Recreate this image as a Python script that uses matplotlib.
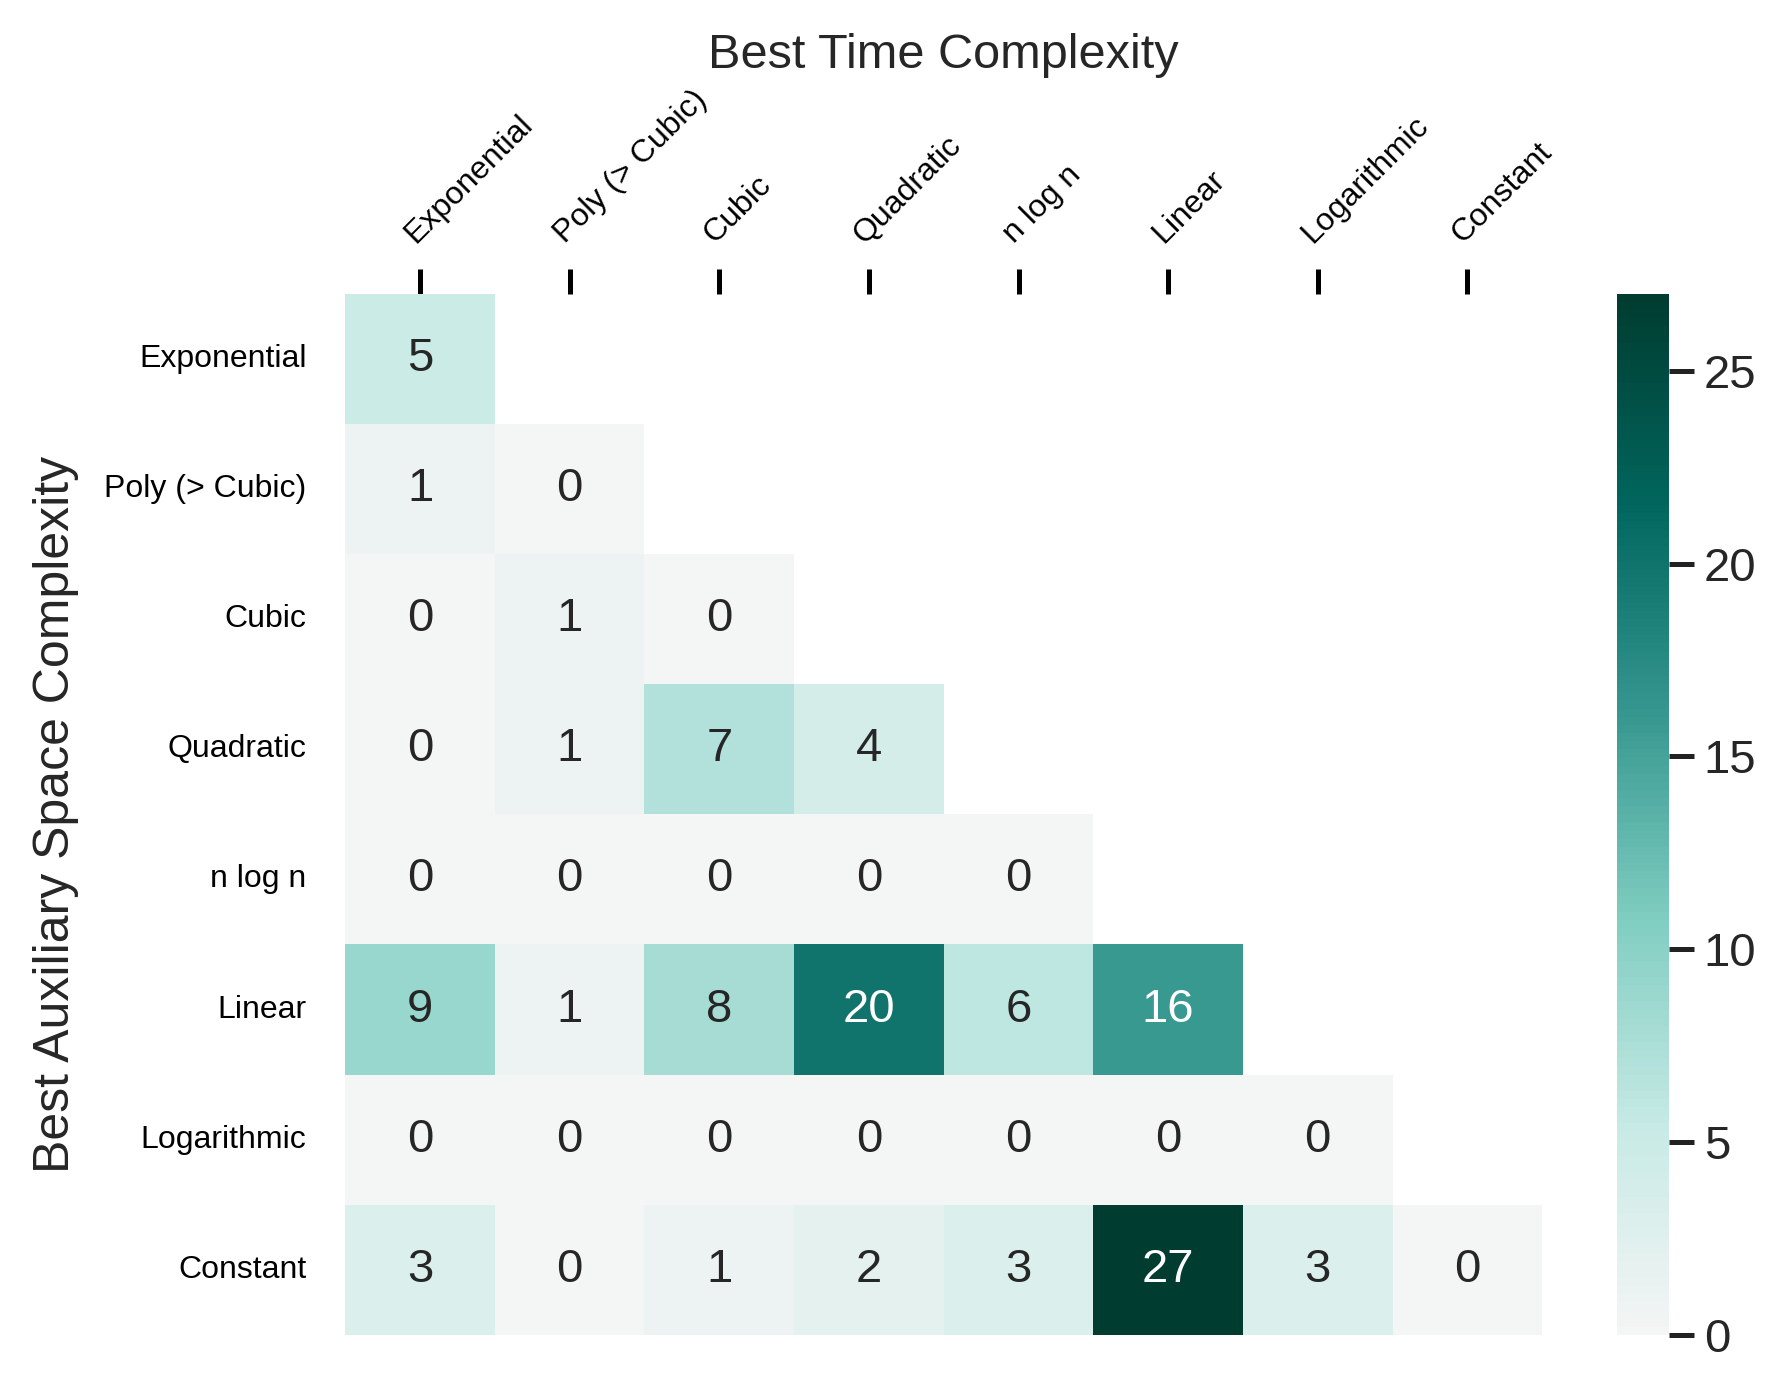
import numpy as np
import matplotlib
matplotlib.use("Agg")
import matplotlib.pyplot as plt
import seaborn as sns

labels = ["Exponential", "Poly (> Cubic)", "Cubic", "Quadratic", "n log n",
          "Linear", "Logarithmic", "Constant"]
row_exponential = [5]
row_poly = [1, 0]
row_cubic = [0, 1, 0]
row_quadratic = [0, 1, 7, 4]
row_nlogn = [0, 0, 0, 0, 0]
row_linear = [9, 1, 8, 20, 6, 16]
row_logarithmic = [0, 0, 0, 0, 0, 0, 0]
row_constant = [3, 0, 1, 2, 3, 27, 3, 0]

rows = [row_exponential, row_poly, row_cubic, row_quadratic, row_nlogn,
        row_linear, row_logarithmic, row_constant]
n = len(labels)
data = np.zeros((n, n))
for i, r in enumerate(rows):
    data[i, :len(r)] = r
mask = np.triu(np.ones((n, n), dtype=bool), k=1)

sns.set_theme(style="white")
plt.rcParams['font.family'] = ['Liberation Sans', 'DejaVu Sans']

fig = plt.figure(figsize=(8.945, 6.96), dpi=200)
ax = fig.add_axes([0.193, 0.041, 0.669, 0.748])
cax = fig.add_axes([0.904, 0.041, 0.029, 0.748])

sns.heatmap(data, mask=mask, cmap="BrBG", center=0, vmin=0, vmax=27,
            annot=True, fmt=".0f", annot_kws={"size": 17},
            xticklabels=labels, yticklabels=labels, ax=ax, cbar_ax=cax)

ax.xaxis.tick_top()
ax.xaxis.set_label_position('top')
ax.set_xticklabels(labels, rotation=45, ha='left', rotation_mode='anchor',
                   fontsize=11.5, color='black')
ax.set_yticklabels(labels, rotation=0, fontsize=11.5, color='black')
ax.tick_params(axis='x', top=True, bottom=False, length=9, width=1.8,
               color='black', pad=7)
ax.tick_params(axis='y', left=False, pad=8)
ax.set_xlabel("Best Time Complexity", fontsize=17.5, labelpad=6)
ax.set_ylabel("Best Auxiliary Space Complexity", fontsize=18, labelpad=9)

cax.tick_params(labelsize=17, length=9, width=1.8, color='#222222', right=True)
cax.set_yticks([0, 5, 10, 15, 20, 25])

fig.savefig("out.png", dpi=200)
